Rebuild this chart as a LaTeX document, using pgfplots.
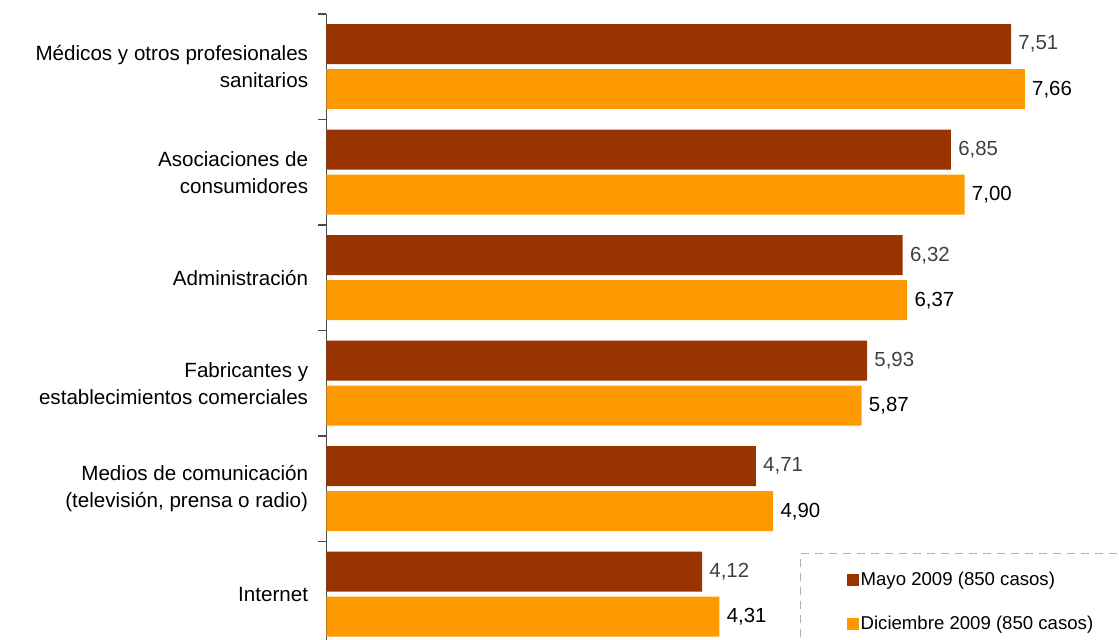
\documentclass[border=0pt]{standalone}
\usepackage{fontspec}
\setmainfont{Liberation Sans}
\usepackage{pgfplots}
\pgfplotsset{compat=1.18}
\usepackage{pgfplotstable}

\definecolor{mayo}{HTML}{993300}
\definecolor{dic}{HTML}{FF9900}
\definecolor{valgray}{HTML}{404040}

% y = 0 Internet ... 5 Medicos
\pgfplotstableread{
y mayo dic
0 4.12 4.31
1 4.71 4.90
2 5.93 5.87
3 6.32 6.37
4 6.85 7.00
5 7.51 7.66
}\datos

\begin{document}
\begin{tikzpicture}
\begin{axis}[
    name=ax,
    xbar,
    scale only axis,
    width=396.25pt,
    height=316.5pt,
    xmin=0, xmax=8.694,
    ymin=-0.5, ymax=5.5,
    axis x line=none,
    axis y line*=left,
    y axis line style={gray!60!black, line width=0.8pt},
    clip=false,
    bar width=20pt,
    ytick={0,1,2,3,4,5},
    yticklabels={
        Internet,
        {Medios de comunicación\\(televisión, prensa o radio)},
        {Fabricantes y\\establecimientos comerciales},
        Administración,
        {Asociaciones de\\consumidores},
        {Médicos y otros profesionales\\sanitarios}},
    major tick length=0pt,
    minor ytick={-0.5,0.5,1.5,2.5,3.5,4.5,5.5},
    minor tick length=4pt,
    tick align=outside,
    minor tick style={gray!60!black, line width=0.8pt},
    yticklabel style={align=right, font=\fontsize{10.3}{13.5}\selectfont,
        inner sep=0pt, xshift=-9pt},
    nodes near coords,
    /pgf/number format/.cd, fixed, fixed zerofill, precision=2, use comma,
        assume math mode=true,
    /pgfplots/.cd,
    every node near coord/.append style={font=\fontsize{10.2}{12}\selectfont,
        anchor=west, inner sep=3.5pt},
    legend style={
        at={(axis cs:5.195,0.391)}, anchor=north west,
        draw=gray!60, dash pattern=on 4pt off 3pt, line width=0.6pt,
        inner xsep=23pt, inner ysep=8pt,
        font=\fontsize{9.3}{11}\selectfont,
        row sep=12pt,
        nodes={inner sep=1pt},
        legend cell align=left,
    },
    legend image code/.code={\fill[#1] (0pt,-3pt) rectangle (6pt,3pt);},
]
\addplot[fill=mayo, draw=none, bar shift=11.25pt,
    every node near coord/.append style={text=valgray}]
    table[x=mayo, y=y] {\datos};
\addplot[fill=dic, draw=none, bar shift=-11.25pt,
    every node near coord/.append style={text=black}]
    table[x=dic, y=y] {\datos};
\legend{Mayo 2009 (850 casos), Diciembre 2009 (850 casos)}
\end{axis}
\pgfresetboundingbox
\path[use as bounding box] (ax.north west) ++(-163.25pt,7pt) rectangle ++(559.5pt,-320pt);
\end{tikzpicture}
\end{document}
